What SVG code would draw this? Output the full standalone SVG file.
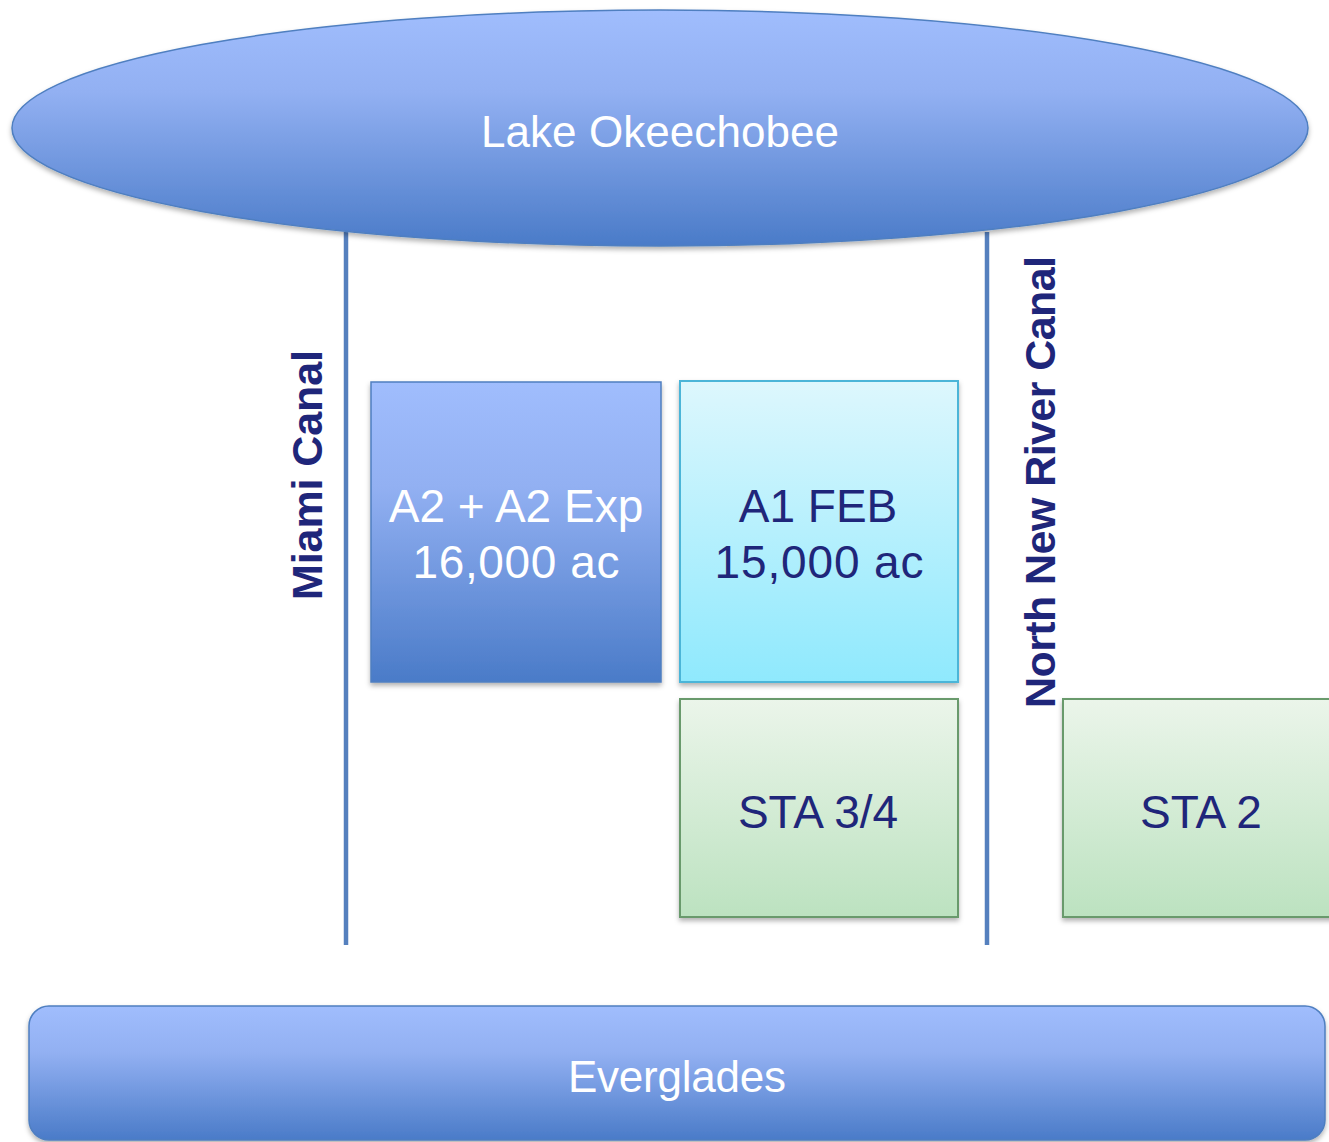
<svg xmlns="http://www.w3.org/2000/svg" width="1329" height="1142" viewBox="0 0 1329 1142">
<defs>
<linearGradient id="gBlue" x1="0" y1="0" x2="0" y2="1">
<stop offset="0" stop-color="#a0bdfd"/>
<stop offset="0.35" stop-color="#92b0f2"/>
<stop offset="1" stop-color="#4a7bc8"/>
</linearGradient>
<linearGradient id="gCyan" x1="0" y1="0" x2="0" y2="1">
<stop offset="0" stop-color="#ddf7fd"/>
<stop offset="1" stop-color="#8fe9fd"/>
</linearGradient>
<linearGradient id="gGreen" x1="0" y1="0" x2="0" y2="1">
<stop offset="0" stop-color="#ebf5ea"/>
<stop offset="1" stop-color="#bce2c0"/>
</linearGradient>
<filter id="sh" x="-5%" y="-5%" width="110%" height="115%">
<feDropShadow dx="0" dy="3" stdDeviation="2.5" flood-color="#000" flood-opacity="0.3"/>
</filter>
</defs>
<style>
.blue{fill:url(#gBlue);stroke:#4f7fc0;stroke-width:1.5}
.cyan{fill:url(#gCyan);stroke:#4bb5d8;stroke-width:2}
.green{fill:url(#gGreen);stroke:#699a6c;stroke-width:2}
.canal{stroke:#5580be;stroke-width:4.5;fill:none}
.wt{font-family:"Liberation Sans",Arial,sans-serif;font-size:46px;fill:#ffffff;text-anchor:middle}
.nt{font-family:"Liberation Sans",Arial,sans-serif;font-size:46px;fill:#1f267a;text-anchor:middle}
.big{font-size:44px}
.lbl{font-family:"Liberation Sans",Arial,sans-serif;font-size:43px;font-weight:bold;fill:#1f267a;text-anchor:middle}
</style>
<g id="connectors">
<line class="canal" x1="346" y1="232" x2="346" y2="945"/>
<line class="canal" x1="987" y1="232" x2="987" y2="945"/>
</g>
<g id="lake">
<ellipse class="blue" cx="660" cy="128" rx="648" ry="118" filter="url(#sh)"/>
<text class="wt big" x="660" y="147" textLength="358">Lake Okeechobee</text>
</g>
<g id="miami-canal-label">
<text class="lbl" transform="translate(322,475) rotate(-90)" textLength="250">Miami Canal</text>
</g>
<g id="nnr-canal-label">
<text class="lbl" transform="translate(1055,482) rotate(-90)" textLength="452">North New River Canal</text>
</g>
<g id="a2">
<rect class="blue" x="371" y="382" width="290" height="300" filter="url(#sh)"/>
<text class="wt" x="516" y="522">A2 + A2 Exp</text>
<text class="wt" x="516" y="578" textLength="207">16,000 ac</text>
</g>
<g id="a1feb">
<rect class="cyan" x="680" y="381" width="278" height="301" filter="url(#sh)"/>
<text class="nt" x="818" y="522">A1 FEB</text>
<text class="nt" x="819" y="578" textLength="209">15,000 ac</text>
</g>
<g id="sta34">
<rect class="green" x="680" y="699" width="278" height="218" filter="url(#sh)"/>
<text class="nt" x="818" y="828">STA 3/4</text>
</g>
<g id="sta2">
<rect class="green" x="1063" y="699" width="290" height="218" filter="url(#sh)"/>
<text class="nt" x="1201" y="828">STA 2</text>
</g>
<g id="everglades">
<rect class="blue" x="29" y="1006" width="1296" height="134" rx="20" ry="20" filter="url(#sh)"/>
<text class="wt big" x="677" y="1092" textLength="218">Everglades</text>
</g>
</svg>
